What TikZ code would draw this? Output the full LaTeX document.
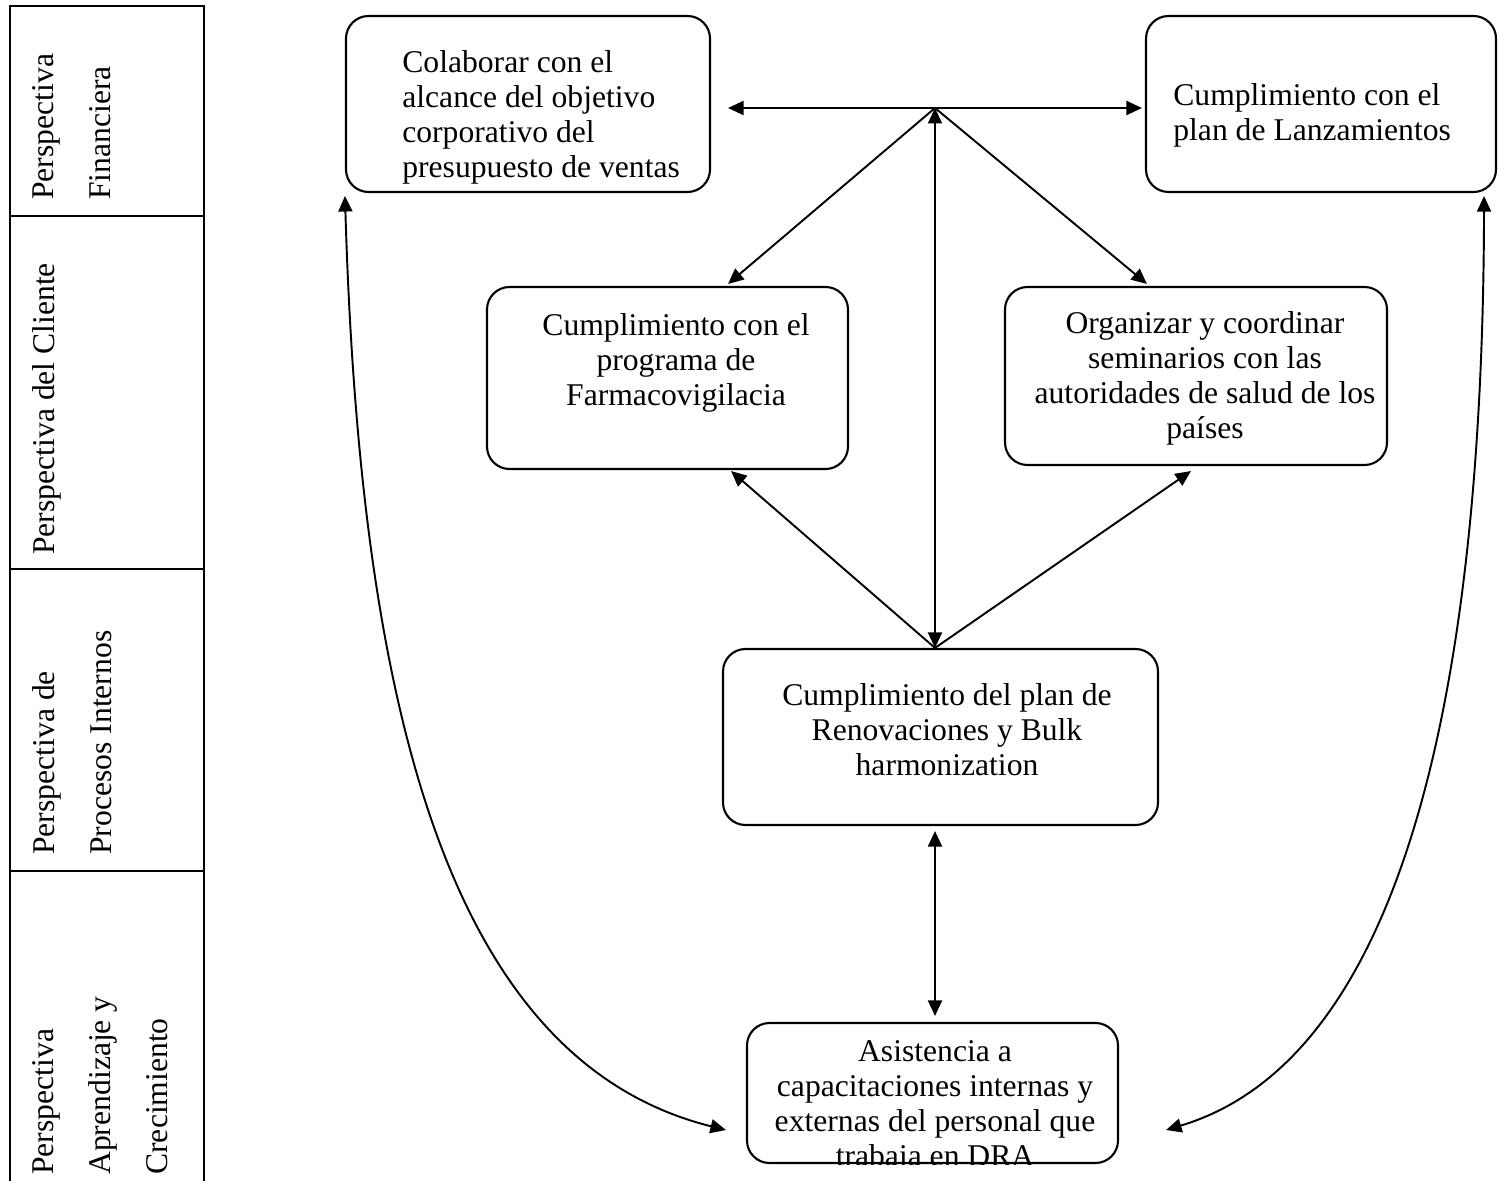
\documentclass[tikz,border=0pt]{standalone}
\usepackage{fontspec}
\setmainfont{Liberation Serif}
\usetikzlibrary{arrows.meta}

\begin{document}
\begin{tikzpicture}[
    caja/.style={draw, line width=1.2pt, rounded corners=0.45cm, inner sep=0pt},
    texto/.style={inner sep=0pt, font=\fontsize{18}{20}\selectfont},
    persp/.style={rotate=90, anchor=north west, inner sep=0pt, align=left, font=\fontsize{18}{32.4}\selectfont},
    flecha/.style={line width=1.1pt, -{Triangle[length=0.31cm, width=0.28cm]}},
    dflecha/.style={line width=1.1pt, {Triangle[length=0.31cm, width=0.28cm]}-{Triangle[length=0.31cm, width=0.28cm]}}
]
    \useasboundingbox (0,0) rectangle (29.96,23.6);

    % COLUMNA DE PERSPECTIVAS
    \draw[line width=1.5pt] (0.2,-0.1) -- (0.2,23.48) -- (4.08,23.48) -- (4.08,-0.1);
    \foreach \y in {19.28, 12.22, 6.18} {
        \draw[line width=1.5pt] (0.2,\y) -- (4.08,\y);
    }
    \node[persp] (pfin) at (0.64,19.6) {Perspectiva\\Financiera};
    \node[persp] (pcli) at (0.64,12.5) {Perspectiva del Cliente};
    \node[persp] (pproc) at (0.64,6.5) {Perspectiva de\\Procesos Internos};
    \node[persp] (papr) at (0.64,0.1) {Perspectiva\\Aprendizaje y\\Crecimiento};

    % CAJAS
    \node[caja, minimum width=7.28cm, minimum height=3.52cm] (colab) at (10.56,21.52) {};
    \node[caja, minimum width=7.0cm, minimum height=3.52cm] (lanz) at (26.42,21.52) {};
    \node[caja, minimum width=7.22cm, minimum height=3.64cm] (farma) at (13.35,16.04) {};
    \node[caja, minimum width=7.64cm, minimum height=3.56cm] (org) at (23.92,16.08) {};
    \node[caja, minimum width=8.7cm, minimum height=3.52cm] (renov) at (18.81,8.86) {};
    \node[caja, minimum width=7.42cm, minimum height=2.8cm] (asist) at (18.65,1.74) {};

    % TEXTOS DE LAS CAJAS
    \node[texto, anchor=north west, align=left] (colabtxt) at (8.04,22.6)
        {Colaborar con el\\alcance del objetivo\\corporativo del\\presupuesto de ventas};
    \node[texto, anchor=north west, align=left] (lanztxt) at (23.46,21.94)
        {Cumplimiento con el\\plan de Lanzamientos};
    \node[texto, anchor=north, align=center] (farmatxt) at (13.52,17.34)
        {Cumplimiento con el\\programa de\\Farmacovigilacia};
    \node[texto, anchor=north, align=center] (orgtxt) at (24.1,17.38)
        {Organizar y coordinar\\seminarios con las\\autoridades de salud de los\\países};
    \node[texto, anchor=north, align=center] (renovtxt) at (18.94,9.94)
        {Cumplimiento del plan de\\Renovaciones y Bulk\\harmonization};
    \begin{scope}
        \clip (asist.north west) rectangle (asist.south east);
        \node[texto, anchor=north, align=center] (asisttxt) at (18.7,2.8)
            {Asistencia a\\capacitaciones internas y\\externas del personal que\\trabaja en DRA};
    \end{scope}

    % FLECHAS
    \coordinate (hub) at (18.7,21.44);
    \coordinate (rtop) at (hub |- renov.north);
    \draw[flecha, shorten >=0.34cm] (hub) -- (hub -| colab.east);
    \draw[flecha, shorten >=0.06cm] (hub) -- (hub -| lanz.west);
    \draw[flecha] (hub) -- ([xshift=-2.42cm, yshift=0.04cm]farma.north east);
    \draw[flecha] (hub) -- ([xshift=2.86cm, yshift=0.04cm]org.north west);
    \draw[dflecha] (hub) -- (rtop);
    \draw[flecha] (rtop) -- ([xshift=-2.36cm, yshift=-0.02cm]farma.south east);
    \draw[flecha] (rtop) -- ([xshift=3.74cm, yshift=-0.1cm]org.south west);
    \draw[dflecha, shorten <=0.1cm, shorten >=0.12cm] (hub |- renov.south) -- (hub |- asist.north);

    % CURVAS LATERALES
    \draw[dflecha] ([yshift=-0.06cm]colab.south west) .. controls (7.2,9.6) and (8.9,2.4) .. ([xshift=-0.4cm, yshift=-0.74cm]asist.west);
    \draw[dflecha] ([xshift=-0.26cm, yshift=-0.06cm]lanz.south east) .. controls (29.66,9.6) and (28.0,2.4) .. ([xshift=0.94cm, yshift=-0.74cm]asist.east);

\end{tikzpicture}
\end{document}
